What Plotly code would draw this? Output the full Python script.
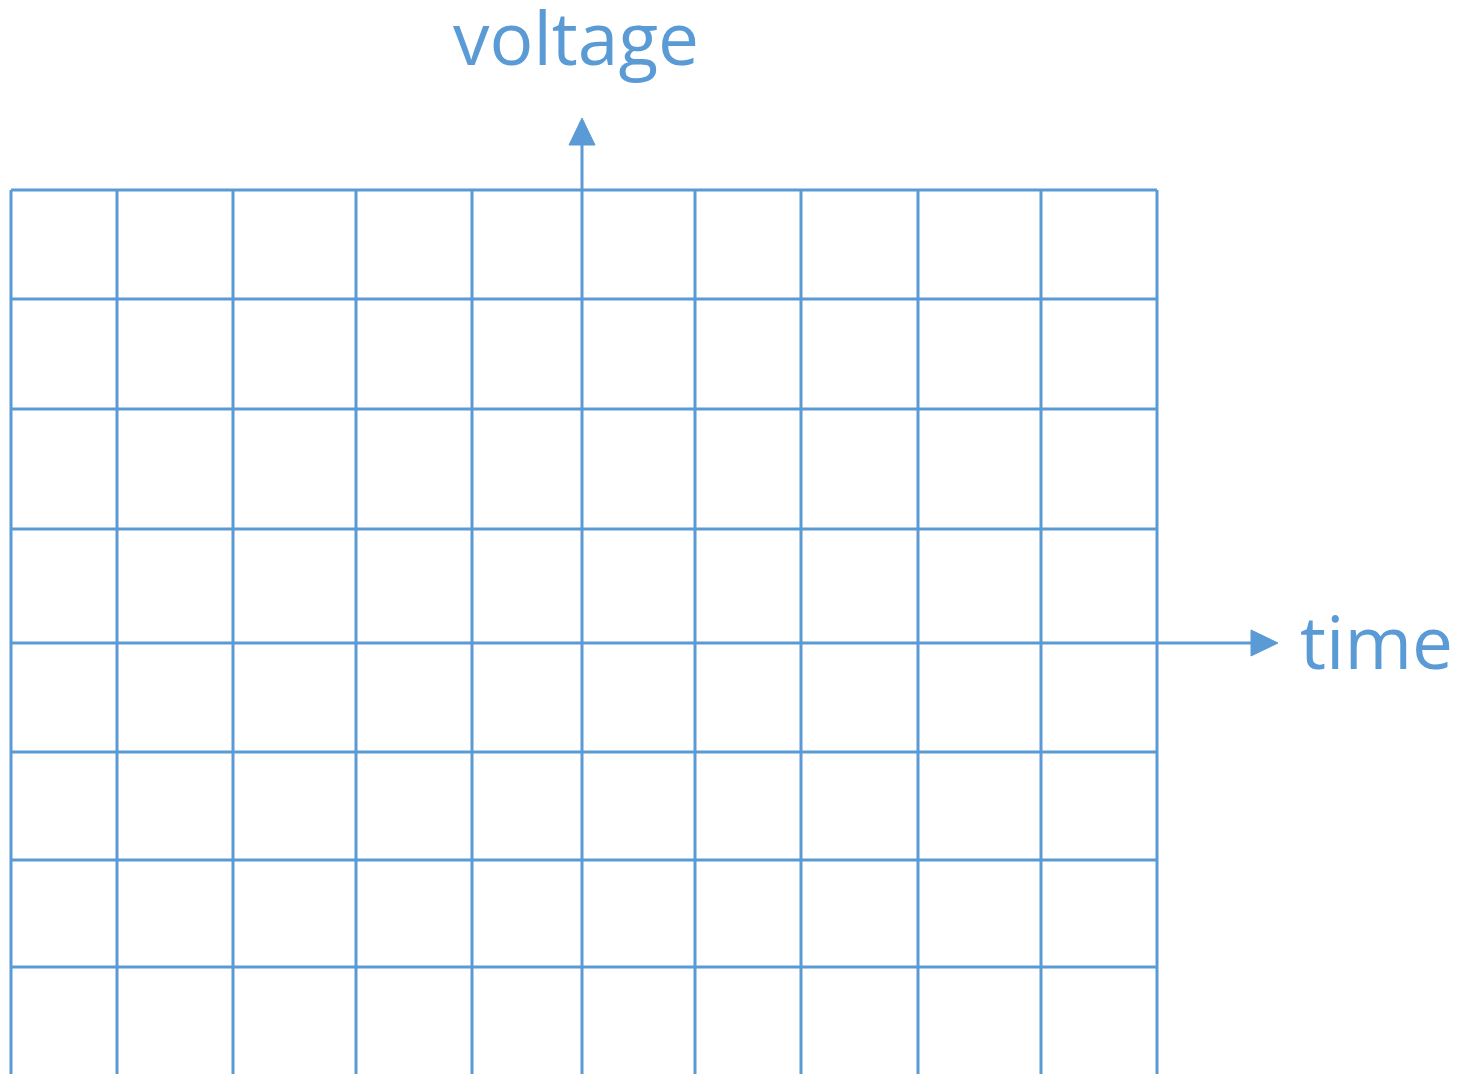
import plotly.graph_objects as go

# Grid positions (in the drawing's coordinate space, pixel-like units)
x_lines = [11, 117, 233, 356, 472, 582, 695, 801, 918, 1041, 1157]
y_lines = [190, 299, 409, 529, 643, 752, 860, 967]
y_bottom = 1074
axis_x = 582      # voltage axis position
axis_y = 643      # time axis position
voltage_tip = 118
time_tip = 1278
labels = {"voltage": (576, 36), "time": (1376, 640)}

color = "#5b9bd5"
head_len = 27
head_half = 13

fig = go.Figure()

# vertical grid lines
vx, vy = [], []
for x in x_lines:
    vx += [x, x, None]
    vy += [y_lines[0], y_bottom, None]
fig.add_trace(go.Scatter(x=vx, y=vy, mode="lines", line=dict(color=color, width=3),
                         hoverinfo="skip", showlegend=False))
# horizontal grid lines
hx, hy = [], []
for y in y_lines:
    hx += [x_lines[0], x_lines[-1], None]
    hy += [y, y, None]
fig.add_trace(go.Scatter(x=hx, y=hy, mode="lines", line=dict(color=color, width=3),
                         hoverinfo="skip", showlegend=False))

# voltage axis arrow
fig.add_trace(go.Scatter(x=[axis_x, axis_x], y=[y_lines[0], voltage_tip + head_len], mode="lines",
                         line=dict(color=color, width=3), hoverinfo="skip", showlegend=False))
fig.add_trace(go.Scatter(
    x=[axis_x - head_half, axis_x, axis_x + head_half, axis_x - head_half],
    y=[voltage_tip + head_len, voltage_tip, voltage_tip + head_len, voltage_tip + head_len],
    mode="lines", fill="toself", fillcolor=color, line=dict(color=color, width=1),
    hoverinfo="skip", showlegend=False))
# time axis arrow
fig.add_trace(go.Scatter(x=[x_lines[-1], time_tip - head_len], y=[axis_y, axis_y], mode="lines",
                         line=dict(color=color, width=3), hoverinfo="skip", showlegend=False))
fig.add_trace(go.Scatter(
    x=[time_tip - head_len, time_tip, time_tip - head_len, time_tip - head_len],
    y=[axis_y - head_half, axis_y, axis_y + head_half, axis_y - head_half],
    mode="lines", fill="toself", fillcolor=color, line=dict(color=color, width=1),
    hoverinfo="skip", showlegend=False))

for text, (tx, ty) in labels.items():
    fig.add_annotation(x=tx, y=ty, xref="x", yref="y", text=text, showarrow=False,
                       font=dict(family="Open Sans", size=73, color=color),
                       xanchor="center", yanchor="middle")

fig.update_layout(
    width=1460, height=1074,
    margin=dict(l=0, r=0, t=0, b=0),
    paper_bgcolor="white", plot_bgcolor="white",
    xaxis=dict(range=[0, 1460], visible=False, fixedrange=True),
    yaxis=dict(range=[1074, 0], visible=False, fixedrange=True),
)
fig.write_html("out.html", config={"displayModeBar": False},
               post_script="document.body.style.margin='0';")
